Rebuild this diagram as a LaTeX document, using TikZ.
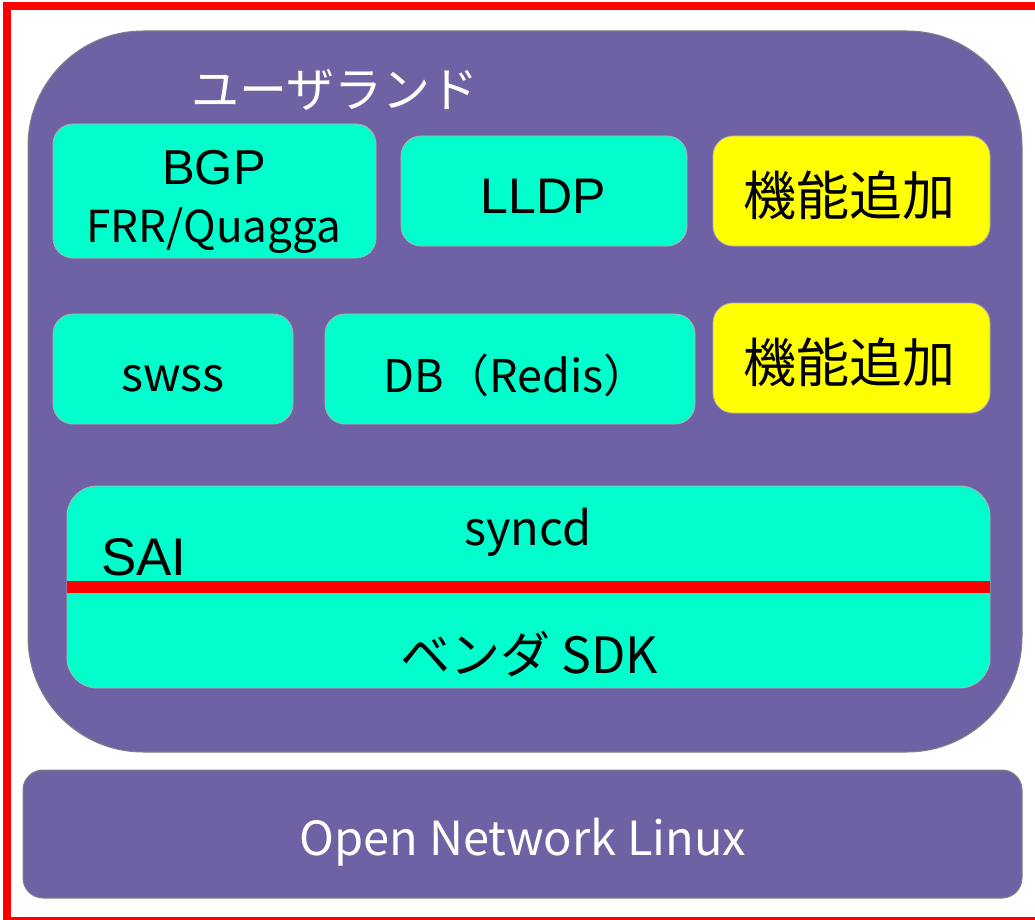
\documentclass[tikz,border=0pt]{standalone}
\usepackage{fontspec}
\setmainfont{Liberation Sans}
\newfontfamily\cjk{Noto Sans CJK JP}
\usetikzlibrary{positioning}

\definecolor{frameRed}{RGB}{255,0,0}
\definecolor{userPurple}{RGB}{110,98,165}
\definecolor{compTeal}{RGB}{0,255,204}
\definecolor{addYellow}{RGB}{255,255,0}

\newcommand{\fs}[1]{\fontsize{#1}{#1}\selectfont}

\begin{document}
\begin{tikzpicture}[
    x=1pt, y=-1pt,
    layer/.style={
        draw=gray, 
        line width=1pt, 
        fill=userPurple, 
        rectangle, 
        inner sep=0pt
    },
    comp/.style={
        draw=gray!60, 
        line width=0.8pt, 
        fill=compTeal, 
        rectangle, 
        rounded corners=20pt, 
        inner sep=0pt
    },
    addon/.style={
        comp, 
        fill=addYellow
    },
    lbl/.style={inner sep=0pt, anchor=base},
    jlbl/.style={inner sep=0pt, anchor=base, font=\cjk}
]
    \useasboundingbox (0,0) rectangle (1035,920);
    \clip (0,0) rectangle (1035,920);
    \fill[white] (0,0) rectangle (1035,920);

    % userland and base OS
    \node[layer, rounded corners=115pt, minimum width=994pt, minimum height=721pt] (userland) at (525,391.5) {};
    \node[layer, rounded corners=20pt, minimum width=999pt, minimum height=128pt] (onl) at (522.5,834) {};
    \node[jlbl, text=white, anchor=center] (userlandtext) at (335,90) {\fs{48}ユーザランド};
    \node[jlbl, text=white] (onltext) at (523,855) {\fs{47}Open Network Linux};

    % upper row
    \node[comp, minimum width=323pt, minimum height=134pt] (bgp) at (214.5,191) {};
    \node[comp, minimum width=286pt, minimum height=110pt] (lldp) at (544,191) {};
    \node[addon, minimum width=277pt, minimum height=110pt] (addA) at (851.5,191) {};
    \node[lbl] (bgptext) at (214,185) {\fs{49}BGP};
    \node[jlbl] (frrtext) at (214,242) {\fs{44}FRR/Quagga};
    \node[lbl] (lldptext) at (543,213) {\fs{50}LLDP};
    \node[jlbl, anchor=center] (addAtext) at (849,195.5) {\fs{53}機能追加};

    % middle row
    \node[comp, minimum width=240pt, minimum height=110pt] (swss) at (173,369) {};
    \node[comp, minimum width=370pt, minimum height=110pt] (db) at (510,369) {};
    \node[addon, minimum width=277pt, minimum height=110pt] (addB) at (851.5,358) {};
    \node[jlbl] (swsstext) at (173,391) {\fs{47}swss};
    \node[jlbl] (dbtext) at (516,392) {\fs{45}DB（Redis）};
    \node[jlbl, anchor=center] (addBtext) at (849,362) {\fs{53}機能追加};

    % syncd / SAI / vendor SDK
    \node[comp, rounded corners=30pt, minimum width=923pt, minimum height=202pt] (asic) at (528.5,587) {};
    \node[jlbl] (syncdtext) at (528,545) {\fs{47}syncd};
    \node[lbl] (saitext) at (144,575) {\fs{53}SAI};
    \node[jlbl] (sdktext) at (529,673) {\fs{50}ベンダ SDK};
    \draw[frameRed, line width=12pt] (asic.west |- 0,587) -- (asic.east |- 0,587);

    % outer frame
    \draw[frameRed, line width=8pt] (7,6) rectangle (1045,921);
\end{tikzpicture}
\end{document}
